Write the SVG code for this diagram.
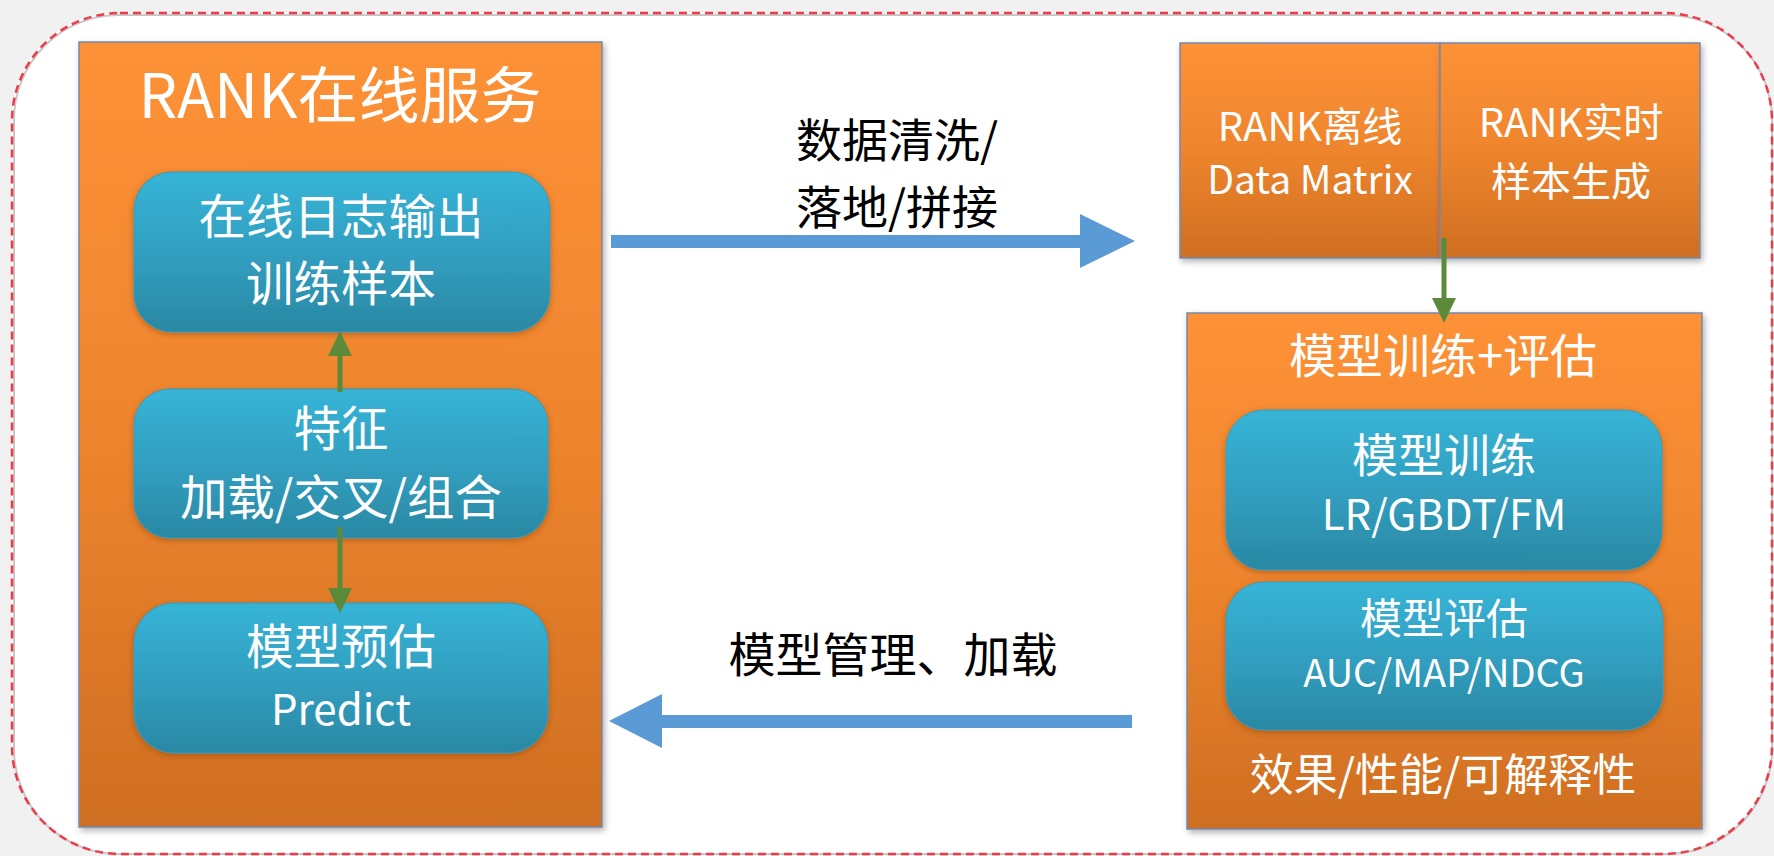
<svg xmlns="http://www.w3.org/2000/svg" width="1774" height="856" viewBox="0 0 1774 856">
<defs>
<linearGradient id="og" x1="0" y1="0" x2="0" y2="1"><stop offset="0" stop-color="#FD9137"/><stop offset="0.5" stop-color="#EE852D"/><stop offset="1" stop-color="#CF6E22"/></linearGradient>
<linearGradient id="bg" x1="0" y1="0" x2="0" y2="1"><stop offset="0" stop-color="#37B4D7"/><stop offset="0.55" stop-color="#319DBE"/><stop offset="1" stop-color="#2A88A3"/></linearGradient>
<filter id="sh" x="-10%" y="-10%" width="120%" height="120%"><feDropShadow dx="2" dy="3" stdDeviation="3" flood-color="#000" flood-opacity="0.3"/></filter>
<filter id="shb" x="-10%" y="-10%" width="120%" height="120%"><feDropShadow dx="0" dy="2" stdDeviation="3" flood-color="#7A3A00" flood-opacity="0.45"/></filter>
</defs>
<style>
.org{fill:url(#og);stroke:#7489AE;stroke-width:1.5}
.blu{fill:url(#bg);stroke:#2F9DC0;stroke-width:1}
text{font-family:"Noto Sans CJK SC","Noto Sans",sans-serif;text-anchor:middle}
.w{fill:#fff}
.k{fill:#000}
.ga{fill:#5B8A3A}
.gs{stroke:#5B8A3A;stroke-width:5;fill:none}
.ba{fill:#5B9BD5}
</style>
<rect width="1774" height="856" fill="#fff"/>
<path d="M0 0H1774V856H0Z M117 13H1667A105 105 0 0 1 1772 118V742A112 112 0 0 1 1660 854H124A112 112 0 0 1 12 742V118A105 105 0 0 1 117 13Z" fill="#F1F1F1" fill-rule="evenodd"/>
<rect x="14" y="15" width="1758" height="839" rx="105" fill="none" stroke="#C8C8C8" stroke-width="2"/>
<rect x="12" y="13" width="1760" height="841" rx="108" fill="none" stroke="#F03A4A" stroke-width="2.5" stroke-dasharray="8 5"/>

<g id="rank-online">
<rect class="org" x="79" y="42" width="523" height="785" filter="url(#sh)"/>
<text class="w" x="340" y="118" font-size="61">RANK在线服务</text>
</g>
<g id="log-output">
<rect class="blu" x="134" y="172" width="416" height="160" rx="38" filter="url(#shb)"/>
<text class="w" x="341" y="234" font-size="47.5">在线日志输出</text>
<text class="w" x="341" y="301" font-size="47.5">训练样本</text>
</g>
<g id="feature">
<rect class="blu" x="134" y="389" width="414" height="149" rx="36" filter="url(#shb)"/>
<text class="w" x="341" y="446" font-size="47.5">特征</text>
<text class="w" x="341" y="515" font-size="47.5">加载/交叉/组合</text>
</g>
<g id="predict">
<rect class="blu" x="134" y="603" width="414" height="150" rx="40" filter="url(#shb)"/>
<text class="w" x="341" y="664" font-size="47.5">模型预估</text>
<text class="w" x="341" y="725" font-size="42">Predict</text>
</g>

<g id="rank-offline">
<rect class="org" x="1180" y="43" width="260" height="215" filter="url(#sh)"/>
<text class="w" x="1310" y="141" font-size="40">RANK离线</text>
<text class="w" x="1310" y="194" font-size="39">Data Matrix</text>
</g>
<g id="rank-realtime">
<rect class="org" x="1440" y="43" width="260" height="215" filter="url(#sh)"/>
<text class="w" x="1571" y="137" font-size="40">RANK实时</text>
<text class="w" x="1571" y="196" font-size="40">样本生成</text>
</g>

<g id="train-eval">
<rect class="org" x="1187" y="313" width="515" height="516" filter="url(#sh)"/>
<text class="w" x="1443" y="373" font-size="47">模型训练+评估</text>
<text class="w" x="1443" y="791" font-size="44">效果/性能/可解释性</text>
</g>
<g id="train">
<rect class="blu" x="1226" y="410" width="436" height="160" rx="38" filter="url(#shb)"/>
<text class="w" x="1444" y="472" font-size="46">模型训练</text>
<text class="w" x="1444" y="530" font-size="42">LR/GBDT/FM</text>
</g>
<g id="eval">
<rect class="blu" x="1226" y="582" width="437" height="148" rx="38" filter="url(#shb)"/>
<text class="w" x="1444" y="634" font-size="42">模型评估</text>
<text class="w" x="1444" y="687" font-size="38">AUC/MAP/NDCG</text>
</g>

<g id="connectors">
<polygon class="ba" points="611,235 1080,235 1080,214 1135,241 1080,268 1080,248 611,248"/>
<text class="k" x="796" y="157" font-size="46" style="text-anchor:start">数据清洗/</text>
<text class="k" x="796" y="224" font-size="46" style="text-anchor:start">落地/拼接</text>
<polygon class="ba" points="1132,715 662,715 662,694 609,721 662,748 662,728 1132,728"/>
<text class="k" x="893" y="672" font-size="47">模型管理、加载</text>
<line class="gs" x1="340" y1="392" x2="340" y2="352"/>
<polygon class="ga" points="328,356 340,331 352,356"/>
<line class="gs" x1="340" y1="527" x2="340" y2="590"/>
<polygon class="ga" points="328,588 352,588 340,613"/>
<line class="gs" x1="1444" y1="238" x2="1444" y2="300"/>
<polygon class="ga" points="1432,298 1456,298 1444,323"/>
</g>
</svg>
